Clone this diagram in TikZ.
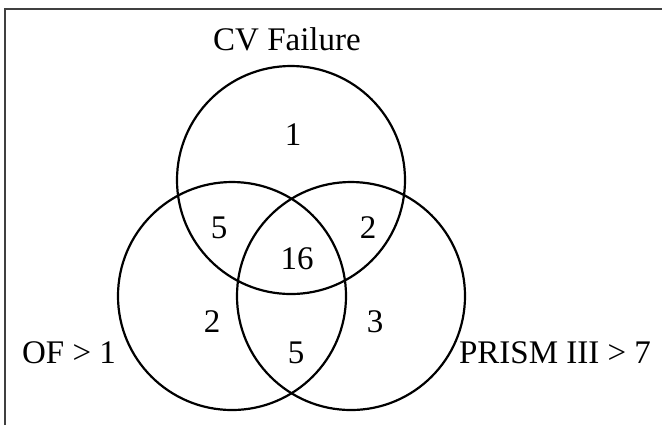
\documentclass[tikz,border=0pt]{standalone}
\usepackage{fontspec}
\setmainfont{Liberation Serif}
\tikzset{set/.style={draw,circle,line width=1.1pt,minimum size=114pt,inner sep=0pt},
         count/.style={anchor=base,font=\fontsize{16.5}{19}\selectfont},
         setname/.style={anchor=base,font=\fontsize{16.5}{19}\selectfont}}
\begin{document}
\begin{tikzpicture}[x=0.5pt,y=-0.5pt]
\useasboundingbox (0,0) rectangle (662,425);
\coordinate (tl) at (5,9);
\draw[line width=0.8pt,black!75] (5,425) -- (tl) -- (662,9);
% the three sets
\node[set] (cv) at (291,180) {};
\node[set] (of) at (232,296) {};
\node[set] (prism) at (351,296) {};
% set names
\node[setname] (cvname) at (287,50) {CV Failure};
\node[setname] (ofname) at (69,363) {OF > 1};
\node[setname] (prismname) at (555,363) {PRISM III > 7};
% counts
\node[count] (n1) at (293,145) {1};
\node[count] (n5a) at (219,238) {5};
\node[count] (n2a) at (368,238) {2};
\node[count] (n16) at (297,269) {16};
\node[count] (n2b) at (212,332) {2};
\node[count] (n3) at (375,332) {3};
\node[count] (n5b) at (296,363) {5};
\end{tikzpicture}
\end{document}
